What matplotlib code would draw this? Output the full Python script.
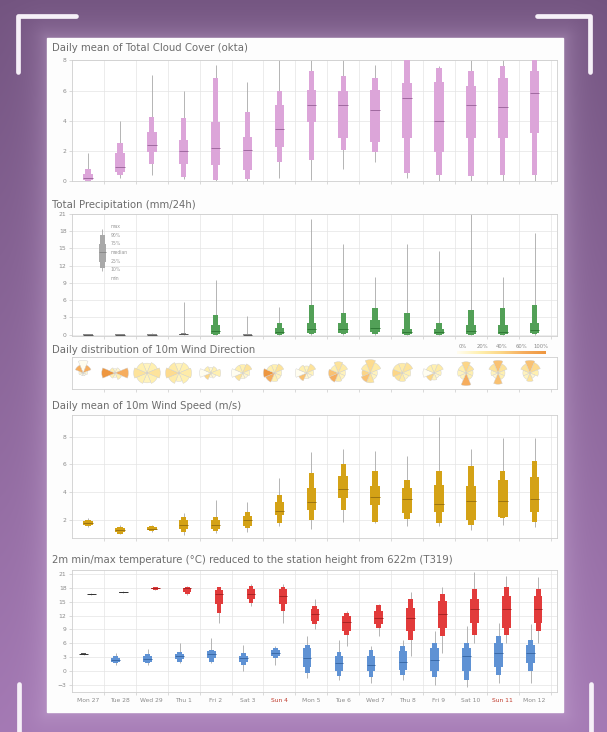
import numpy as np
import matplotlib
matplotlib.use('Agg')
import matplotlib.pyplot as plt
from matplotlib.patches import Rectangle, Wedge
from matplotlib.lines import Line2D
from matplotlib.colors import LinearSegmentedColormap, to_rgb

#%% data

days = ['Mon 27', 'Tue 28', 'Wed 29', 'Thu 1', 'Fri 2', 'Sat 3', 'Sun 4', 'Mon 5',
        'Tue 6', 'Wed 7', 'Thu 8', 'Fri 9', 'Sat 10', 'Sun 11', 'Mon 12']

# each entry: (min, p10, p25, median, p75, p90, max)
cloud = [(0, 0, 0.05, 0.2, 0.45, 0.8, 1.85),
         (0.2, 0.38, 0.6, 0.94, 1.83, 2.55, 4.0),
         (0.38, 1.16, 1.94, 2.38, 3.27, 4.28, 7.06),
         (0.1, 0.27, 1.16, 2.0, 2.72, 4.16, 5.95),
         (0, 0.04, 1.05, 2.16, 3.94, 6.84, 7.73),
         (0, 0.15, 0.71, 2.05, 2.94, 4.6, 6.6),
         (0.2, 1.27, 2.27, 3.45, 5.05, 5.95, 8.0),
         (0.05, 1.38, 3.94, 5.05, 6.05, 7.33, 8.0),
         (0.8, 2.05, 2.83, 5.05, 5.95, 6.95, 8.0),
         (1.27, 1.94, 2.6, 4.68, 6.05, 6.84, 7.73),
         (0.2, 0.5, 2.83, 5.5, 6.5, 8.0, 8.0),
         (0, 0.38, 1.94, 4.0, 6.6, 7.5, 7.6),
         (0, 0.33, 2.83, 5.05, 6.28, 7.33, 8.0),
         (0, 0.38, 2.83, 4.88, 6.84, 7.6, 8.0),
         (0, 0.38, 3.16, 5.84, 7.33, 8.0, 8.0)]

precip = [(0, 0, 0, 0, 0.02, 0.05, 0.1),
          (0, 0, 0, 0, 0.02, 0.05, 0.1),
          (0, 0, 0, 0, 0.03, 0.08, 0.2),
          (0, 0, 0, 0.02, 0.1, 0.3, 5.75),
          (0, 0, 0.1, 0.6, 1.6, 3.4, 9.56),
          (0, 0, 0, 0, 0.05, 0.15, 3.3),
          (0, 0, 0.1, 0.5, 1.2, 1.94, 4.87),
          (0, 0.05, 0.3, 0.9, 1.94, 5.16, 20.1),
          (0, 0.05, 0.3, 0.9, 1.94, 3.7, 15.7),
          (0, 0.1, 0.4, 1.1, 2.5, 4.57, 10.1),
          (0, 0, 0.1, 0.4, 0.9, 3.7, 15.7),
          (0, 0, 0.05, 0.4, 1.05, 1.94, 14.5),
          (0, 0, 0.1, 0.6, 1.64, 4.28, 21.0),
          (0, 0, 0.1, 0.5, 1.64, 4.57, 10.0),
          (0, 0.05, 0.2, 0.8, 1.94, 5.16, 17.6)]

legend_sample = (11.0, 11.6, 12.6, 14.3, 15.8, 17.3, 18.3)
legend_names = ['max', '90%', '75%', 'median', '25%', '10%', 'min']
legend_label_y = [18.8, 17.3, 15.8, 14.3, 12.8, 11.3, 9.8]

wind = [(1.5, 1.6, 1.7, 1.8, 1.95, 2.05, 2.2),
        (1.0, 1.06, 1.15, 1.3, 1.45, 1.54, 1.66),
        (1.2, 1.25, 1.3, 1.4, 1.55, 1.6, 1.66),
        (0.95, 1.18, 1.4, 1.65, 2.0, 2.27, 2.5),
        (1.1, 1.23, 1.4, 1.7, 2.0, 2.27, 3.48),
        (1.2, 1.42, 1.6, 2.0, 2.3, 2.58, 3.35),
        (1.6, 1.78, 2.39, 2.65, 3.35, 3.84, 5.05),
        (1.4, 2.0, 2.75, 3.35, 4.3, 5.4, 6.86),
        (1.9, 2.75, 3.6, 4.25, 5.17, 6.0, 7.1),
        (1.8, 1.9, 3.11, 3.7, 4.44, 5.5, 7.0),
        (1.6, 2.1, 2.5, 3.5, 4.3, 4.9, 6.6),
        (1.6, 1.78, 2.6, 3.2, 4.56, 5.5, 9.4),
        (1.3, 1.66, 2.0, 3.4, 4.44, 5.9, 7.1),
        (1.7, 2.15, 2.27, 3.4, 4.9, 5.5, 7.9),
        (1.5, 1.9, 2.6, 3.55, 5.1, 6.26, 7.9)]

tmax = [(16.4, 16.5, 16.55, 16.6, 16.65, 16.7, 16.8),
        (16.8, 16.9, 16.95, 17.0, 17.05, 17.1, 17.2),
        (17.5, 17.6, 17.7, 17.9, 18.0, 18.1, 18.2),
        (16.5, 16.6, 17.0, 17.9, 18.0, 18.1, 18.3),
        (10.5, 12.6, 14.5, 16.6, 17.4, 18.1, 18.2),
        (14.1, 14.8, 15.5, 16.6, 17.7, 18.3, 18.8),
        (10.5, 13.0, 14.5, 16.3, 17.7, 18.1, 18.8),
        (9.0, 10.1, 10.8, 12.3, 13.4, 14.1, 15.5),
        (5.4, 7.9, 8.6, 10.6, 11.9, 12.6, 13.0),
        (7.5, 9.4, 10.1, 11.5, 13.0, 14.2, 14.5),
        (3.2, 6.8, 8.6, 11.5, 13.7, 15.5, 17.0),
        (3.9, 7.5, 9.4, 12.3, 15.2, 16.6, 18.1),
        (6.1, 7.9, 10.5, 13.4, 15.5, 17.7, 21.4),
        (6.1, 7.9, 9.4, 13.4, 16.3, 18.1, 20.6),
        (6.1, 8.6, 10.5, 13.4, 16.3, 17.7, 20.3)]

tmin = [(3.5, 3.6, 3.7, 3.76, 3.82, 3.9, 4.0),
        (1.4, 1.7, 2.0, 2.45, 2.9, 3.3, 3.9),
        (1.4, 1.7, 2.1, 2.6, 3.2, 3.8, 4.8),
        (1.8, 2.1, 2.6, 3.2, 3.7, 4.1, 6.1),
        (1.7, 2.1, 2.9, 3.8, 4.3, 4.6, 7.2),
        (0.0, 1.4, 2.0, 2.8, 3.4, 3.9, 5.7),
        (1.4, 2.8, 3.3, 3.9, 4.5, 5.0, 5.5),
        (-1.5, -0.3, 1.0, 2.8, 5.0, 5.7, 7.5),
        (-1.9, -1.0, 0.0, 1.7, 3.2, 4.1, 6.8),
        (-2.5, -1.2, 0.0, 1.4, 3.2, 4.6, 5.4),
        (-1.9, -0.8, 0.3, 2.1, 4.3, 5.4, 6.8),
        (-3.0, -1.2, 0.0, 2.45, 5.0, 6.1, 8.6),
        (-3.4, -1.9, 0.0, 3.2, 5.0, 6.1, 9.7),
        (-2.6, -0.8, 1.0, 3.9, 6.1, 7.5, 10.5),
        (-2.6, 0.0, 1.7, 3.9, 5.7, 6.8, 10.1)]

# wind roses, sectors N, NE, E, SE, S, SW, W, NW
rose_len = [[0.9, 0.6, 0.3, 0.2, 0.2, 0.2, 0.3, 0.6],
            [0.3, 0.4, 0.95, 0.5, 0.3, 0.4, 0.95, 0.4],
            [0.7, 0.8, 0.95, 0.8, 0.7, 0.8, 0.95, 0.8],
            [0.7, 0.8, 0.9, 0.8, 0.6, 0.8, 0.95, 0.8],
            [0.4, 0.5, 0.7, 0.4, 0.3, 0.5, 0.8, 0.5],
            [0.6, 0.7, 0.5, 0.4, 0.4, 0.6, 0.8, 0.6],
            [0.6, 0.7, 0.5, 0.5, 0.6, 0.7, 0.8, 0.6],
            [0.5, 0.7, 0.5, 0.4, 0.4, 0.6, 0.8, 0.6],
            [0.8, 0.7, 0.5, 0.5, 0.6, 0.7, 0.7, 0.6],
            [0.95, 0.8, 0.5, 0.5, 0.7, 0.7, 0.6, 0.7],
            [0.7, 0.8, 0.6, 0.5, 0.6, 0.6, 0.7, 0.7],
            [0.6, 0.7, 0.5, 0.4, 0.5, 0.6, 0.8, 0.6],
            [0.8, 0.6, 0.5, 0.5, 0.9, 0.5, 0.6, 0.6],
            [0.9, 0.7, 0.5, 0.5, 0.8, 0.4, 0.5, 0.7],
            [0.9, 0.8, 0.6, 0.4, 0.6, 0.5, 0.5, 0.7]]
rose_pct = [[60, 30, 5, 2, 2, 2, 5, 30],
            [5, 5, 30, 10, 5, 10, 40, 10],
            [8, 10, 15, 10, 8, 10, 15, 10],
            [8, 10, 12, 10, 8, 12, 18, 12],
            [5, 10, 10, 5, 5, 20, 55, 10],
            [10, 15, 8, 5, 5, 15, 45, 10],
            [10, 15, 8, 8, 10, 30, 40, 10],
            [8, 15, 8, 5, 5, 25, 45, 10],
            [15, 12, 8, 8, 12, 30, 25, 10],
            [18, 12, 8, 8, 15, 25, 20, 12],
            [12, 15, 10, 8, 12, 15, 20, 12],
            [10, 12, 8, 5, 8, 20, 45, 10],
            [20, 15, 10, 10, 30, 8, 8, 10],
            [25, 15, 10, 10, 25, 5, 8, 15],
            [25, 18, 10, 5, 15, 8, 8, 15]]
rose_ticks = ['0%', '20%', '40%', '60%', '100%']

#%% helpers

W_PX, H_PX = 607, 732
def fx(px): return px / W_PX
def fy(py): return 1 - py / H_PX

GRAY_TXT = '#6c6c6c'
XMAX = 15.2

def eps_box(ax, x, s, color, med_color, wn=0.17, ww=0.3):
    mn, p10, p25, p50, p75, p90, mx = s
    ax.vlines(x, mn, mx, color='#a8a8a8', lw=0.6, zorder=2)
    ax.bar(x, p90 - p10, bottom=p10, width=wn, color=color, lw=0, zorder=3)
    ax.bar(x, p75 - p25, bottom=p25, width=ww, color=color, lw=0, zorder=3)
    ax.hlines(p50, x - ww / 2, x + ww / 2, color=med_color, lw=0.7, zorder=4)

def style(ax, ylim, yticks, labels=False):
    ax.set_xlim(0, XMAX)
    ax.set_ylim(*ylim)
    ax.set_yticks(yticks)
    ax.set_xticks(np.arange(1, 16))
    ax.set_xticklabels([])
    ax.grid(True, color='#e4e4e4', lw=0.5)
    ax.set_axisbelow(True)
    for sp in ax.spines.values():
        sp.set_color('#cfcfcf')
        sp.set_linewidth(0.6)
    ax.tick_params(axis='both', length=2, width=0.5, color='#cccccc',
                   labelsize=4.3, labelcolor='#8a8a8a', pad=2)
    if labels:
        ax.set_xticks(np.arange(15) + 0.5, minor=True)
        ax.set_xticklabels(days, minor=True)
        ax.tick_params(axis='x', which='minor', length=0, labelsize=4.3,
                       labelcolor='#8a8a8a', pad=4)
        for t in ax.get_xticklabels(minor=True):
            if t.get_text().startswith('Sun'):
                t.set_color('#c0392b')

#%% figure, frame and background

fig = plt.figure(figsize=(6.07, 7.32), dpi=100)

yy, xx = np.mgrid[0:H_PX, 0:W_PX]
top_c = np.array(to_rgb('#735480'))
bot_c = np.array(to_rgb('#a479b4'))
t = (yy / H_PX)[..., None]
img = top_c * (1 - t) + bot_c * t
dx = np.maximum.reduce([47 - xx, np.zeros_like(xx), xx - 563])
dy = np.maximum.reduce([38 - yy, np.zeros_like(yy), yy - 712])
glow = np.exp(-np.hypot(dx, dy) / 14.0)[..., None] * 0.35
img = img * (1 - glow) + np.array(to_rgb('#d4b8df')) * glow
bg = fig.add_axes([0, 0, 1, 1], zorder=-10)
bg.imshow(img, aspect='auto', extent=[0, 1, 0, 1])
bg.axis('off')

fig.add_artist(Rectangle((fx(47), fy(712)), fx(563) - fx(47), fy(38) - fy(712),
                         transform=fig.transFigure, color='#fdfdfd', zorder=-5))

bracket = dict(transform=fig.transFigure, color='#f6f0f8', lw=3.4,
               solid_capstyle='round', solid_joinstyle='round')
fig.add_artist(Line2D([fx(18), fx(18), fx(76)], [fy(72), fy(16), fy(16)], **bracket))
fig.add_artist(Line2D([fx(537), fx(590), fx(590)], [fy(16), fy(16), fy(72)], **bracket))
fig.add_artist(Line2D([fx(19), fx(19)], [fy(684), fy(740)], **bracket))
fig.add_artist(Line2D([fx(591), fx(591)], [fy(684), fy(740)], **bracket))

AX_L, AX_W = fx(72), fx(557) - fx(72)

def title(py, s):
    fig.text(fx(52), fy(py), s, fontsize=7.3, color=GRAY_TXT, va='center')

#%% cloud cover
ax1 = fig.add_axes([AX_L, fy(181), AX_W, (181 - 59.7) / H_PX])
title(48, 'Daily mean of Total Cloud Cover (okta)')
for i, s in enumerate(cloud):
    eps_box(ax1, i + 0.5, s, '#dca5d9', '#a06aa0')
style(ax1, (0, 8.05), [0, 2, 4, 6, 8])

#%% precipitation
ax2 = fig.add_axes([AX_L, fy(336), AX_W, (336 - 213.6) / H_PX])
title(205, 'Total Precipitation (mm/24h)')
for i, s in enumerate(precip):
    small = s[5] - s[1] < 0.35
    eps_box(ax2, i + 0.5, s, '#8a8a8a' if small else '#52a057',
            '#555555' if small else '#2f7a35')
eps_box(ax2, 0.95, legend_sample, '#a9a9a9', '#8a8a8a', wn=0.14, ww=0.22)
for name, ly in zip(legend_names, legend_label_y):
    ax2.text(1.2, ly, name, fontsize=3.3, color='#999999', va='center')
style(ax2, (-0.25, 21.05), [0, 3, 6, 9, 12, 15, 18, 21])

#%% wind direction
ax3 = fig.add_axes([AX_L, fy(389), AX_W, 32 / H_PX])
title(350, 'Daily distribution of 10m Wind Direction')
rose_cmap = LinearSegmentedColormap.from_list(
    'rose', ['#fffdf0', '#fff0b0', '#fcd687', '#f6ad5e', '#ee963f'])
for i, (lens, pcts) in enumerate(zip(rose_len, rose_pct)):
    for k, (r, p) in enumerate(zip(lens, pcts)):
        ang = 90 - 45 * k
        ax3.add_patch(Wedge((i + 0.35, 0), 0.44 * r, ang - 22.5, ang + 22.5,
                            fc=rose_cmap(min(p / 40, 1)), ec='#cfcfcf', lw=0.3))
ax3.set_xlim(0, XMAX)
ax3.set_ylim(-0.5, 0.5)
ax3.set_xticks(np.arange(1, 16))
ax3.set_xticklabels([])
ax3.set_yticks([])
ax3.tick_params(axis='x', length=2.5, width=0.5, color='#cccccc', direction='out')
for sp in ax3.spines.values():
    sp.set_color('#cfcfcf')
    sp.set_linewidth(0.6)

cb = fig.add_axes([fx(457), fy(354), fx(546) - fx(457), 2.5 / H_PX])
cb.imshow(np.linspace(0, 1, 100)[None, :], cmap=rose_cmap, aspect='auto')
cb.axis('off')
for j, lab in enumerate(rose_ticks):
    fig.text(fx(463 + 19.5 * j), fy(346), lab, fontsize=3.8, color='#8a8a8a',
             ha='center', va='center')

#%% wind speed
ax4 = fig.add_axes([AX_L, fy(538), AX_W, (538 - 415.3) / H_PX])
title(406, 'Daily mean of 10m Wind Speed (m/s)')
for i, s in enumerate(wind):
    eps_box(ax4, i + 0.5, s, '#d4a216', '#9c7410')
style(ax4, (0.74, 9.52), [2, 4, 6, 8])

#%% temperature
ax5 = fig.add_axes([AX_L, fy(692), AX_W, (692 - 569.7) / H_PX])
title(560, '2m min/max temperature (°C) reduced to the station height from 622m (T319)')
for i, s in enumerate(tmin):
    small = s[5] - s[1] < 0.35
    eps_box(ax5, i + 0.37, s, '#555555' if small else '#5f92d4',
            '#333333' if small else '#3a6aa8', wn=0.15, ww=0.27)
for i, s in enumerate(tmax):
    small = s[5] - s[1] < 0.35
    eps_box(ax5, i + 0.61, s, '#555555' if small else '#e23b3b',
            '#333333' if small else '#a82424', wn=0.15, ww=0.27)
style(ax5, (-4.45, 21.86), [-3, 0, 3, 6, 9, 12, 15, 18, 21], labels=True)

fig.savefig('out.png', dpi=100)
